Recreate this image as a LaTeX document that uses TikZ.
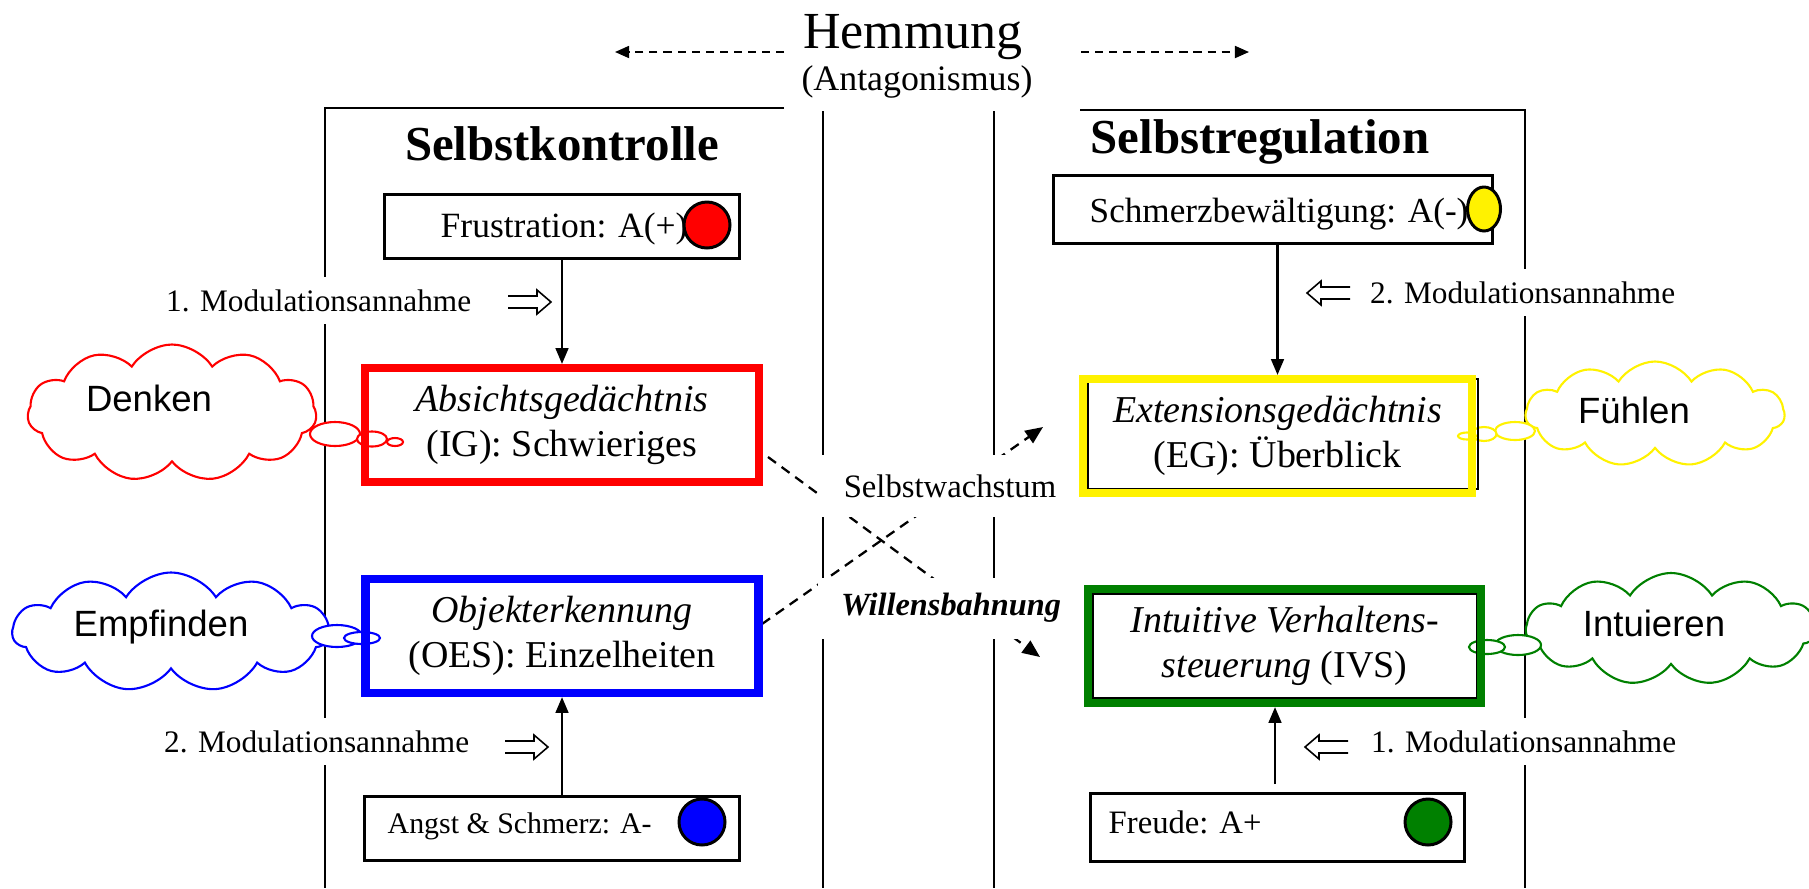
\documentclass[tikz,border=0pt]{standalone}
\usepackage{fontspec}
\setmainfont{Liberation Serif}
\newfontfamily\cloudfont{Liberation Sans}
\usetikzlibrary{shapes.symbols,shapes.geometric,arrows.meta,calc}
\definecolor{dgreen}{RGB}{0,128,0}
\begin{document}
\begin{tikzpicture}[x=0.1mm,y=-0.1mm,
  panel/.style={line width=0.55pt},
  smallbox/.style={draw, line width=0.85pt, inner sep=0pt},
  bigbox/.style={line width=2.3pt, inner sep=0pt, align=center, font=\fontsize{10.8}{12.8}\selectfont},
  dot/.style={circle, draw, line width=0.85pt, inner sep=0pt, minimum size=4.6mm},
  lab/.style={fill=white, inner xsep=1pt, inner ysep=3.5pt, font=\fontsize{8.9}{10.7}\selectfont},
  varrow/.style={line width=0.7pt, -{Triangle[length=4.5pt,width=3.6pt]}},
  hemarrow/.style={line width=0.55pt, dash pattern=on 2.3pt off 1.7pt, -{Triangle[length=4pt,width=3.4pt]}},
  diag/.style={line width=0.65pt, dash pattern=on 2.8pt off 2pt, -{Triangle[length=5pt,width=4.2pt]}},
  dblsym/.style={line width=0.45pt, line join=miter},
  cloudst/.style={cloud, cloud puffs=11, cloud puff arc=115, cloud ignores aspect, fill=white, line width=0.6pt, inner sep=0pt},
  cloudtxt/.style={font=\cloudfont\fontsize{10.4}{12}\selectfont, inner sep=0pt},
  bubble/.style={fill=white, line width=0.6pt},
]
\useasboundingbox (0,0) rectangle (1809,888);
\clip (0,0) rectangle (1809,888);

% ---------- panel frames ----------
\draw[panel] (784,108) -- (325,108) -- (325,888);
\draw[panel] (823,111) -- (823,888);
\draw[panel] (994,111) -- (994,888);
\draw[panel] (1080,110) -- (1525,110) -- (1525,888);

% ---------- title ----------
\node[font=\fontsize{14.8}{17}\selectfont, anchor=base, inner sep=0pt] (hem) at (913,48) {Hemmung};
\node[font=\fontsize{10.2}{12}\selectfont, anchor=base, inner sep=0pt] (ant) at (917,90) {(Antagonismus)};
\coordinate (hl1) at (784,52);
\coordinate (hl2) at (615,52);
\coordinate (hr1) at (1081,52);
\coordinate (hr2) at (1249,52);
\draw[hemarrow] (hl1) -- (hl2);
\draw[hemarrow] (hr1) -- (hr2);

\node[font=\fontsize{13.9}{16}\selectfont\bfseries, anchor=base, inner sep=0pt] (tk) at (562,160) {Selbstkontrolle};
\node[font=\fontsize{13.9}{16}\selectfont\bfseries, anchor=base, inner sep=0pt] (tr) at (1260,153) {Selbstregulation};

% ---------- dashed diagonals ----------
\coordinate (a1) at (768,457);
\coordinate (a2) at (1040,657);
\coordinate (b1) at (762,624);
\coordinate (b2) at (1043,427);
\draw[diag] (a1) -- (a2);
\draw[diag] (b1) -- (b2);
\node[fill=white, inner sep=0pt, minimum width=26.4mm, minimum height=6.2mm, font=\fontsize{9.3}{11}\selectfont] (SW) at (950,486) {Selbstwachstum};
\node[fill=white, inner sep=0pt, minimum width=26.6mm, minimum height=6.1mm, font=\fontsize{9.2}{11}\selectfont\bfseries\itshape] (WB) at (951,608) {Willensbahnung};

% ---------- clouds ----------
\node[cloudst, draw=red, minimum width=28.9mm, minimum height=13.7mm] (cD) at (172,413) {};
\draw[bubble, draw=red] (335,434) ellipse [x radius=2.5mm, y radius=1.2mm];
\draw[bubble, draw=red] (372,439) ellipse [x radius=1.5mm, y radius=0.75mm];
\draw[bubble, draw=red] (395,442) ellipse [x radius=0.8mm, y radius=0.4mm];
\node[cloudtxt] (tD) at (149,398) {Denken};

\node[cloudst, draw=blue, minimum width=31.7mm, minimum height=11.9mm] (cE) at (171,632) {};
\draw[bubble, draw=blue] (337,636) ellipse [x radius=2.5mm, y radius=1.1mm];
\draw[bubble, draw=blue] (362,638) ellipse [x radius=1.8mm, y radius=0.6mm];
\node[cloudtxt] (tE) at (161,627) {Empfinden};

\node[cloudst, draw=yellow, minimum width=25.9mm, minimum height=10.5mm] (cF) at (1655,414) {};
\draw[bubble, draw=yellow] (1515,431) ellipse [x radius=2.0mm, y radius=0.9mm];
\draw[bubble, draw=yellow] (1484,434) ellipse [x radius=1.25mm, y radius=0.7mm];
\draw[bubble, draw=yellow] (1467,436) ellipse [x radius=0.9mm, y radius=0.35mm];
\node[cloudtxt] (tF) at (1634,410) {Fühlen};

\node[cloudst, draw=dgreen, minimum width=29mm, minimum height=11.2mm] (cI) at (1671,629) {};
\draw[bubble, draw=dgreen] (1518,645) ellipse [x radius=2.3mm, y radius=1.0mm];
\draw[bubble, draw=dgreen] (1487,647) ellipse [x radius=1.8mm, y radius=0.7mm];
\node[cloudtxt] (tI) at (1654,623) {Intuieren};

% ---------- left column ----------
\node[smallbox, minimum width=35.5mm, minimum height=6.4mm] (frus) at (561.5,226) {};
\node[anchor=base west, inner sep=0pt, font=\fontsize{10.1}{12}\selectfont] (frust) at (440,237) {Frustration: A(+)};
\node[dot, fill=red] (frusc) at (707,225) {};

\node[bigbox, draw=red, minimum width=39.4mm, minimum height=11.4mm] (IG) at (562,425) {\textit{Absichtsgedächtnis}\\(IG): Schwieriges};
\node[bigbox, draw=blue, minimum width=39.3mm, minimum height=11.4mm] (OES) at (562,636) {\textit{Objekterkennung}\\(OES): Einzelheiten};

\node[smallbox, minimum width=37.5mm, minimum height=6.4mm] (angst) at (551.5,828) {};
\node[anchor=base west, inner sep=0pt, font=\fontsize{8.5}{10}\selectfont] (angstt) at (387,833) {Angst \& Schmerz: A-};
\node[dot, fill=blue] (angstc) at (702,822) {};

\draw[varrow] (frus.south -| IG.north) -- (IG.north);
\draw[varrow] (angst.north -| OES.south) -- (OES.south);

\node[lab, anchor=base west] (L1) at (162,311) {1. Modulationsannahme};
\coordinate (l1a) at (508,302);
\draw[dblsym] (l1a) ++(0,-6) -- ++(29,0) -- ++(0,-6) -- ++(14,12) -- ++(-14,12) -- ++(0,-6) -- ++(-29,0);
\node[lab, anchor=base west] (L2) at (160,752) {2. Modulationsannahme};
\coordinate (l2a) at (505,747);
\draw[dblsym] (l2a) ++(0,-6) -- ++(29,0) -- ++(0,-6) -- ++(14,12) -- ++(-14,12) -- ++(0,-6) -- ++(-29,0);

% ---------- right column ----------
\node[smallbox, minimum width=43.9mm, minimum height=6.8mm] (schm) at (1272.5,209) {};
\node[anchor=base west, inner sep=0pt, font=\fontsize{10}{12}\selectfont] (schmt) at (1089,222) {Schmerzbewältigung: A(-)};
\node[ellipse, draw, line width=0.85pt, fill=yellow, inner sep=0pt, minimum width=3.3mm, minimum height=4.4mm] (schmc) at (1484,209) {};

\draw[line width=0.7pt] (1088,379) rectangle (1478,489);
\node[bigbox, draw=yellow, minimum width=38.9mm, minimum height=11.4mm] (EG) at (1277.5,436) {\textit{Extensionsgedächtnis}\\(EG): Überblick};

\draw[line width=0.6pt] (1093,594) rectangle (1477,698);
\node[bigbox, draw=dgreen, minimum width=39.3mm, minimum height=11.4mm] (IVS) at (1284.5,646) {\textit{Intuitive Verhaltens-}\\\textit{steuerung} (IVS)};

\node[smallbox, minimum width=37.4mm, minimum height=6.8mm] (freude) at (1277,827) {};
\node[anchor=base west, inner sep=0pt, font=\fontsize{9.3}{11}\selectfont] (freudet) at (1108,833) {Freude: A+};
\node[dot, fill=dgreen] (freudec) at (1428,822) {};

\draw[varrow] (schm.south -| EG.north) -- (EG.north);
\coordinate (fs) at (1275,784);
\draw[varrow] (fs) -- (fs |- IVS.south);

\node[lab, anchor=base west] (R2) at (1366,303) {2. Modulationsannahme};
\coordinate (r2a) at (1350,293);
\draw[dblsym] (r2a) ++(0,-6) -- ++(-29,0) -- ++(0,-6) -- ++(-14,12) -- ++(14,12) -- ++(0,-6) -- ++(29,0);
\node[lab, anchor=base west] (R1) at (1367,752) {1. Modulationsannahme};
\coordinate (r1a) at (1348,747);
\draw[dblsym] (r1a) ++(0,-6) -- ++(-29,0) -- ++(0,-6) -- ++(-14,12) -- ++(14,12) -- ++(0,-6) -- ++(29,0);
\end{tikzpicture}
\end{document}
